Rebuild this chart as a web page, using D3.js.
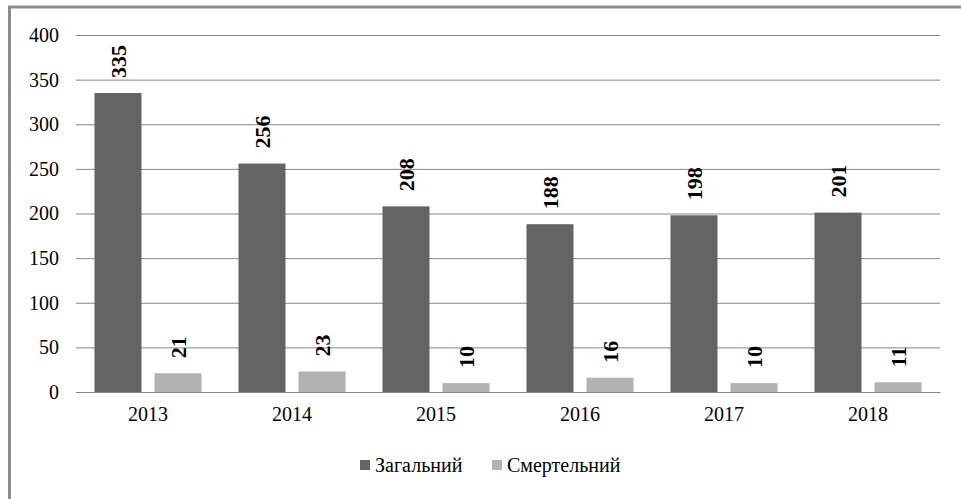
<!DOCTYPE html>
<html><head>
<meta charset="utf-8">
<script src="https://d3js.org/d3.v7.min.js"></script>
<style>
body { margin: 0; background: white; }
svg text { font-family: 'Liberation Serif', 'Times New Roman', serif; fill: #000; }
</style>
</head><body>
<svg id="chart" width="961" height="499"></svg>
<script>
var years = ["2013", "2014", "2015", "2016", "2017", "2018"];
var series = ["Загальний", "Смертельний"];
var total = [335, 256, 208, 188, 198, 201];
var fatal = [21, 23, 10, 16, 10, 11];
var yTicks = [0, 50, 100, 150, 200, 250, 300, 350, 400];
var colors = ["#646464", "#b2b2b2"];
var serifFont = "'Liberation Serif', 'Times New Roman', serif";

var svg = d3.select("#chart");

// outer frame (runs off the right and bottom of the picture)
svg.append("rect")
    .attr("x", 9.5).attr("y", 7)
    .attr("width", 980).attr("height", 520)
    .attr("fill", "white")
    .attr("stroke", "#8c8c8c")
    .attr("stroke-width", 3);

var x0 = d3.scaleBand().domain(years).range([76, 940]);
var x1 = d3.scaleBand().domain(series).range([0, x0.bandwidth()])
    .paddingInner(0.2167).paddingOuter(0.308);
var y = d3.scaleLinear().domain([0, 400]).range([392, 35]);

// gridlines + y labels
var yAxis = svg.append("g")
    .attr("transform", "translate(76,0)")
    .call(d3.axisLeft(y).tickValues(yTicks).tickSize(-864).tickPadding(17));
yAxis.attr("font-family", serifFont);
yAxis.select(".domain").remove();
yAxis.selectAll(".tick line").attr("stroke", "#868686");
yAxis.selectAll(".tick text")
    .style("font-size", "20px");

var rows = years.map(function(yr, i) { return { year: yr, vals: [total[i], fatal[i]] }; });

var groups = svg.append("g").selectAll("g")
    .data(rows).enter().append("g")
    .attr("transform", function(d) { return "translate(" + x0(d.year) + ",0)"; });

groups.selectAll("rect")
    .data(function(d) { return d.vals.map(function(v, j) { return { s: series[j], v: v, j: j }; }); })
    .enter().append("rect")
    .attr("x", function(d) { return x1(d.s); })
    .attr("width", x1.bandwidth())
    .attr("y", function(d) { return y(d.v); })
    .attr("height", function(d) { return y(0) - y(d.v); })
    .attr("fill", function(d) { return colors[d.j]; });

// rotated value labels above bars
groups.selectAll("text.val")
    .data(function(d) { return d.vals.map(function(v, j) { return { s: series[j], v: v }; }); })
    .enter().append("text")
    .attr("class", "val")
    .attr("transform", function(d) {
        return "translate(" + (x1(d.s) + x1.bandwidth() / 2) + "," + (y(d.v) - 15) + ") rotate(-90)";
    })
    .attr("dy", "0.35em")
    .style("font-size", "22px")
    .style("font-weight", "bold")
    .text(function(d) { return d.v; });

// x axis baseline + labels
var xAxis = svg.append("g")
    .attr("transform", "translate(0,392)")
    .call(d3.axisBottom(x0).tickSize(0).tickPadding(15));
xAxis.attr("font-family", serifFont);
xAxis.select(".domain").attr("stroke", "#868686");
xAxis.selectAll(".tick text")
    .style("font-size", "20px");

// legend
var legend = svg.append("g").attr("transform", "translate(360,460)");
var lx = [0, 132];
series.forEach(function(s, i) {
    legend.append("rect")
        .attr("x", lx[i]).attr("y", 0)
        .attr("width", 10).attr("height", 10)
        .attr("fill", colors[i]);
    legend.append("text")
        .attr("x", lx[i] + 15).attr("y", 5)
        .attr("dy", "0.35em")
        .style("font-size", "20px")
        .text(s);
});
</script>
</body></html>
